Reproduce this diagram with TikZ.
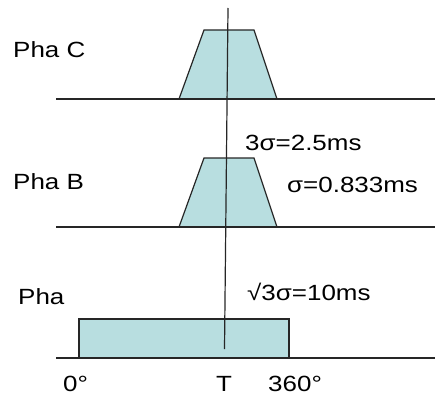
\documentclass[tikz,border=0pt]{standalone}
\usepackage{fontspec}
\usepackage{graphicx}
\setmainfont{Liberation Sans}
\definecolor{pulse}{RGB}{184,222,224}
\newcommand{\wideText}[1]{\scalebox{1.18}[1]{#1}}
\begin{document}
\begin{tikzpicture}[x=1pt,y=-1pt,
  lbl/.style={font=\fontsize{22}{26}\selectfont, inner sep=0pt, anchor=west},
  axis/.style={line width=1.2pt, black!85},
  shp/.style={draw=black!85, line width=1.2pt, fill=pulse}]
\useasboundingbox (0,0) rectangle (435,396);
% shapes
\draw[shp] (179,99) -- (204,30) -- (254,30) -- (277,99) -- cycle;
\draw[shp] (179,227) -- (204,158) -- (254,158) -- (277,227) -- cycle;
\draw[shp] (79,319) rectangle (289,358);
% baselines
\draw[axis] (56,99) -- (435,99);
\draw[axis] (56,227) -- (435,227);
\draw[axis] (56,358) -- (435,358);
% vertical marker
\coordinate (vtop) at (228,8);
\coordinate (vbot) at (224.5,349);
\draw[axis] (vtop) -- (vbot);
% labels
\node[lbl] (pc) at (13,50) {\wideText{Pha C}};
\node[lbl] (pb) at (13,182) {\wideText{Pha B}};
\node[lbl] (pa) at (18,297) {\wideText{Pha}};
\node[lbl] (s1) at (245,143) {\wideText{3σ=2.5ms}};
\node[lbl] (s2) at (287,185) {\wideText{σ=0.833ms}};
\node[lbl] (s3) at (247,292) {\wideText{√3σ=10ms}};
\node[lbl] (d0) at (63,384) {\wideText{0°}};
\node[lbl] (dt) at (216,384) {\wideText{T}};
\node[lbl] (d360) at (268,384) {\wideText{360°}};
\end{tikzpicture}
\end{document}
